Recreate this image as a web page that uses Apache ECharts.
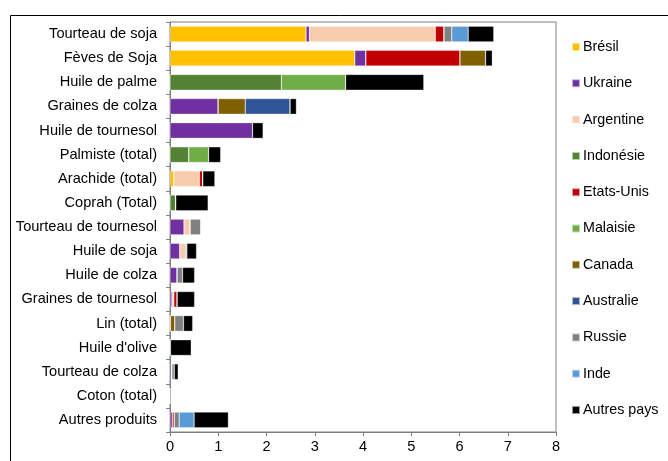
<!DOCTYPE html>
<html><head><meta charset="utf-8">
<script src="https://cdn.jsdelivr.net/npm/echarts@6/dist/echarts.min.js"></script>
<style>html,body{margin:0;padding:0;background:#fff}#c{width:668px;height:461px}</style>
</head><body><div id="c"></div>
<script>
const categories = ["Tourteau de soja","Fèves de Soja","Huile de palme","Graines de colza","Huile de tournesol","Palmiste (total)","Arachide (total)","Coprah (Total)","Tourteau de tournesol","Huile de soja","Huile de colza","Graines de tournesol","Lin (total)","Huile d'olive","Tourteau de colza","Coton (total)","Autres produits"];
const countries = ["Brésil","Ukraine","Argentine","Indonésie","Etats-Unis","Malaisie","Canada","Australie","Russie","Inde","Autres pays"];
const colors = ["#FFC000","#7030A0","#F8CBAD","#548235","#C00000","#70AD47","#7F6000","#2F5597","#808080","#5B9BD5","#000000"];
// values per country, in category order
const bresil    = [2.82,3.83,0,0,0,0,0.08,0,0,0,0,0,0,0,0,0,0];
const ukraine   = [0.07,0.23,0,1.00,1.71,0,0,0,0.29,0.20,0.15,0.04,0.01,0,0.04,0,0.05];
const argentine = [2.61,0,0,0,0,0,0.53,0,0.13,0.12,0,0.04,0,0,0,0,0];
const indonesie = [0,0,2.31,0,0,0.39,0,0.12,0,0,0,0,0,0,0,0,0];
const etatsunis = [0.18,1.95,0,0,0,0,0.07,0,0,0,0,0.07,0,0,0,0,0.04];
const malaisie  = [0,0,1.33,0,0,0.41,0,0,0,0,0,0,0,0,0,0,0];
const canada    = [0,0.53,0,0.56,0,0,0,0,0,0,0,0,0.09,0.01,0,0,0];
const australie = [0,0,0,0.93,0,0,0,0,0,0,0,0,0,0,0,0,0];
const russie    = [0.16,0,0,0,0,0,0,0,0.22,0.03,0.11,0,0.18,0,0.05,0,0.10];
const inde      = [0.34,0,0,0,0,0,0,0,0,0,0,0,0,0,0,0,0.31];
const autres    = [0.53,0.14,1.62,0.13,0.22,0.25,0.25,0.67,0,0.20,0.25,0.36,0.19,0.43,0.08,0.02,0.71];
const seriesData = [bresil,ukraine,argentine,indonesie,etatsunis,malaisie,canada,australie,russie,inde,autres];
const xTicks = [0,1,2,3,4,5,6,7,8];

const chart = echarts.init(document.getElementById('c'));
const font = 'Liberation Sans';
chart.setOption({
  animation:false,
  textStyle:{fontFamily:font},
  graphic:[{type:'rect',left:8,top:13,shape:{width:700,height:500},style:{fill:'none',stroke:'#000',lineWidth:1},silent:true}],
  grid:{left:170,right:112,top:22,bottom:29,show:true,borderColor:'#808080',borderWidth:1,containLabel:false},
  legend:{orient:'vertical',left:566,top:34,itemGap:20.3,itemWidth:8,itemHeight:8,icon:'rect',
    textStyle:{fontSize:14.3,lineHeight:16,color:'#000',fontFamily:font,padding:[0,0,0,-2]},data:countries},
  xAxis:{type:'value',min:0,max:8,interval:1,
    axisLine:{show:true,lineStyle:{color:'#808080'}},
    axisTick:{show:true,length:4,lineStyle:{color:'#808080'}},
    splitLine:{show:false},
    axisLabel:{color:'#000',fontSize:14.6,margin:7,formatter:v=>xTicks.includes(v)?String(v):''}},
  yAxis:{type:'category',inverse:true,data:categories,
    axisLine:{show:true,lineStyle:{color:'#808080'}},
    axisTick:{show:true,length:4,lineStyle:{color:'#808080'}},
    axisLabel:{color:'#000',fontSize:14.6,margin:13}},
  series:countries.map((n,i)=>({name:n,type:'bar',stack:'t',data:seriesData[i],
    barCategoryGap:'35%',itemStyle:{color:colors[i],borderColor:'rgba(255,255,255,0.6)',borderWidth:0.5}}))
});
</script></body></html>
